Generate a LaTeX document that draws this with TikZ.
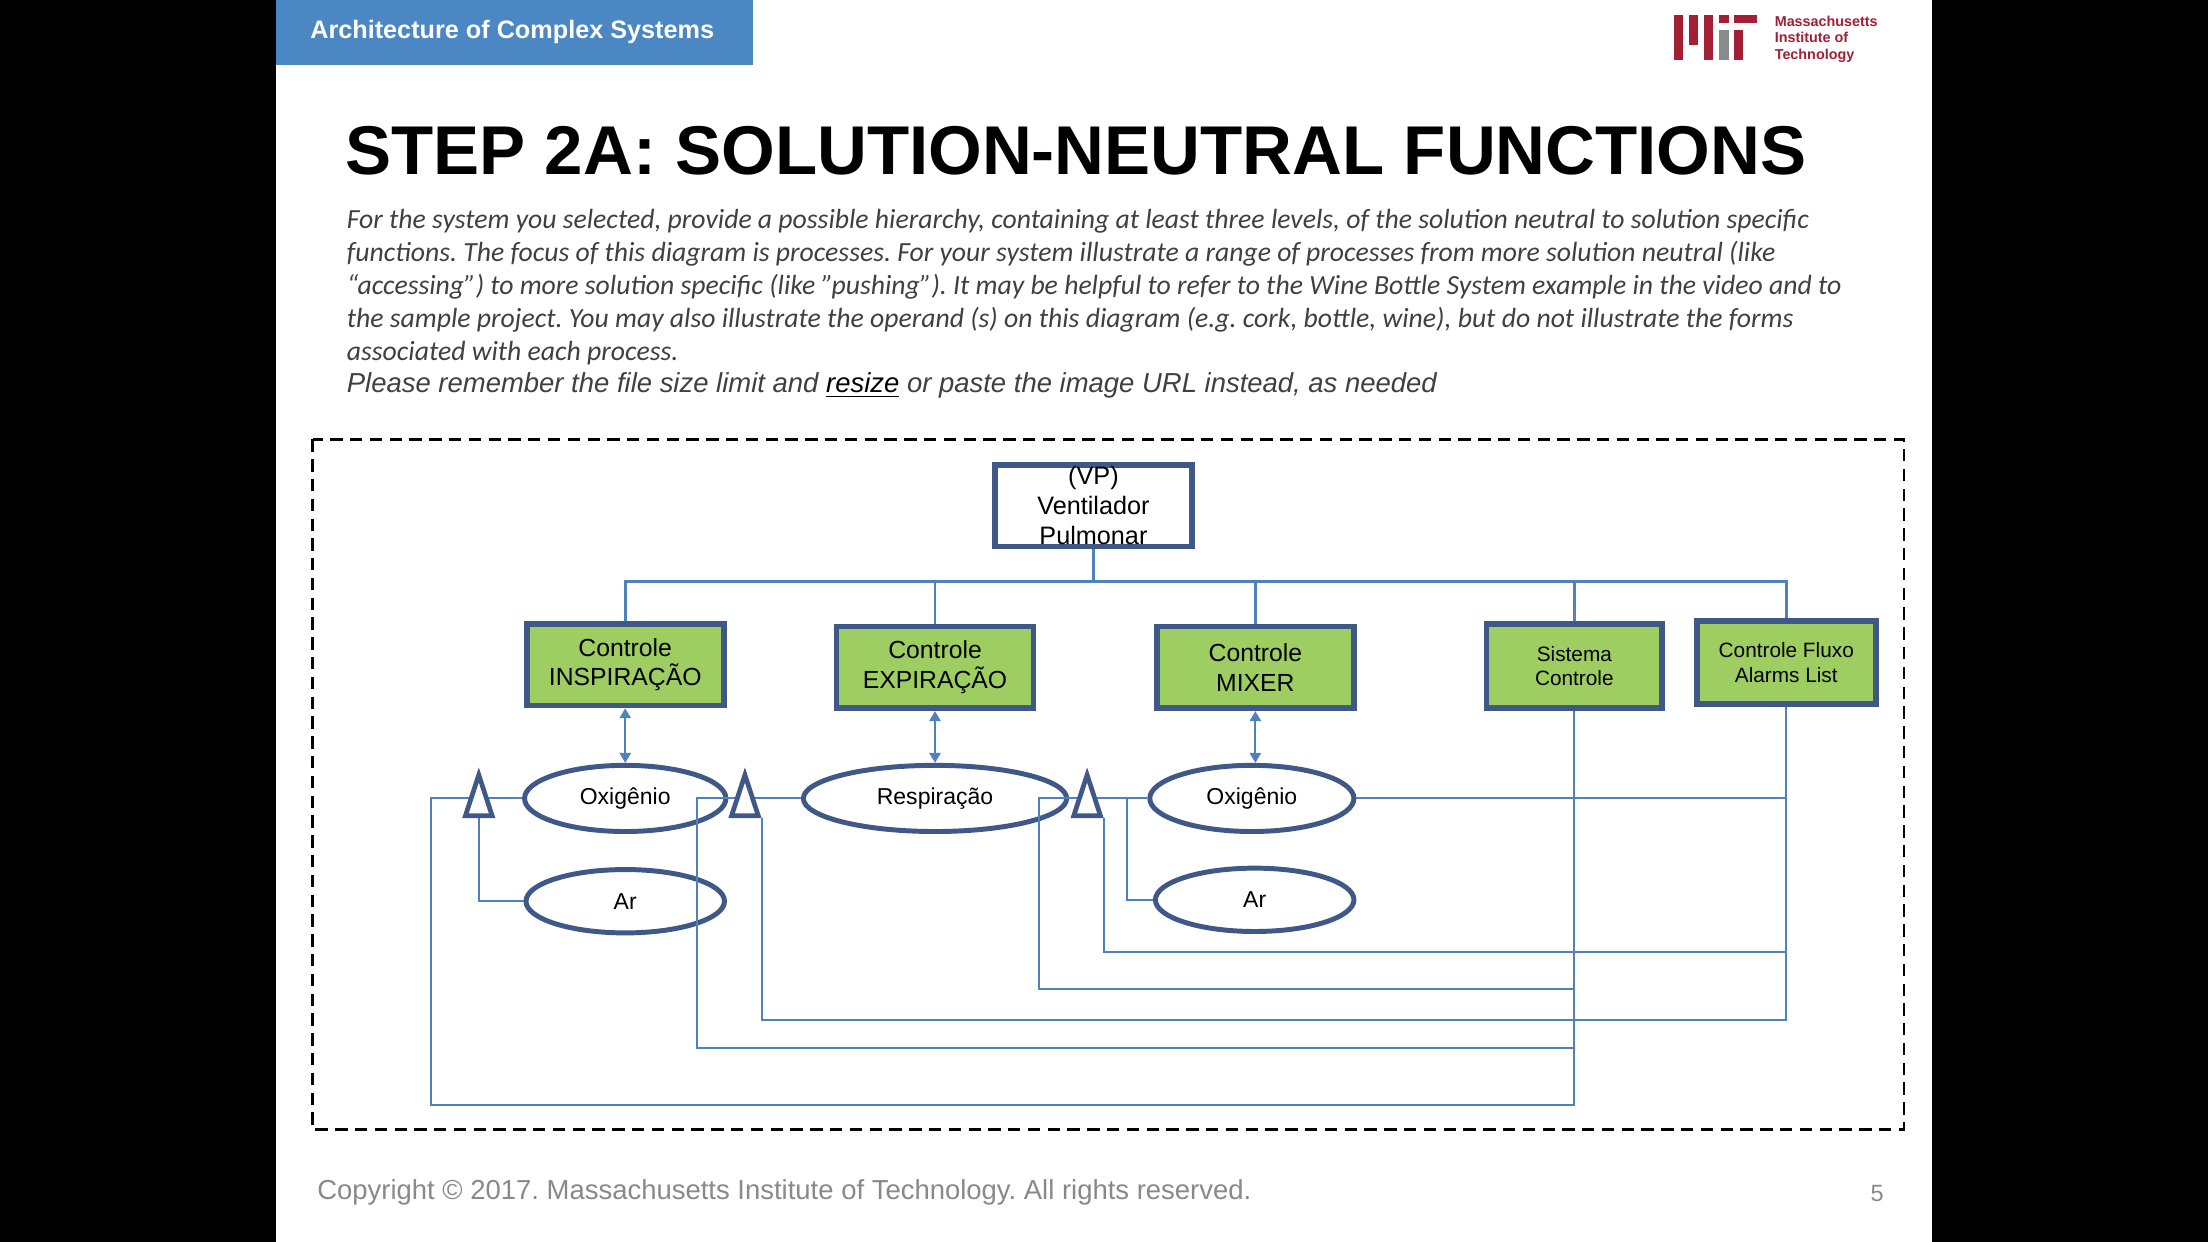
\documentclass[tikz,border=0pt]{standalone}
\usepackage{fontspec}
\setmainfont{Liberation Sans}
\newfontfamily\calibrifont{Carlito}
\usetikzlibrary{arrows.meta}
\usetikzlibrary{shapes.geometric}
\definecolor{boxline}{RGB}{64,88,136}
\definecolor{linkblue}{RGB}{79,129,189}
\definecolor{boxgreen}{RGB}{158,206,98}
\definecolor{headblue}{RGB}{75,135,195}
\definecolor{mitred}{RGB}{163,31,52}
\definecolor{mitgray}{RGB}{138,139,140}
\definecolor{txtgray}{RGB}{64,64,64}
\definecolor{footgray}{RGB}{137,137,137}
\pgfdeclarelayer{front}
\pgfsetlayers{main,front}
\frenchspacing

\begin{document}
\begin{tikzpicture}[x=0.02cm,y=-0.02cm,>={Triangle[length=4pt,width=4.5pt]},
	txt/.style={inner sep=0pt,anchor=base west},
	func/.style={draw=boxline,fill=boxgreen,line width=2.3pt,inner sep=0pt,align=center,
		minimum width=2.8cm,minimum height=1.16cm,font=\fontsize{10}{12}\selectfont},
	small/.style={font=\fontsize{8.4}{9.8}\selectfont},
	operand/.style={ellipse,draw=boxline,fill=white,line width=2pt,inner sep=0pt,
		minimum height=0.94cm,font=\fontsize{9.3}{11}\selectfont},
	spec/.style={isosceles triangle,isosceles triangle stretches,shape border rotate=90,
		draw=boxline,fill=white,line width=1.9pt,inner sep=0pt,anchor=south,
		minimum width=0.38cm,minimum height=0.58cm},
	link/.style={draw=linkblue,line width=0.8pt},
	tree/.style={draw=linkblue,line width=1.1pt}]
	\useasboundingbox (0,0) rectangle (1568,882);
	\fill[black] (0,0) rectangle (1568,882);
	\fill[white] (196,0) rectangle (1372,882);

	% slide header
	\fill[headblue] (196,0) rectangle (535,46);
	\node[txt,text=white,font=\bfseries\fontsize{10.2}{12}\selectfont] (course) at (220,27) {Architecture of Complex Systems};
	\fill[mitred] (1189,10.6) rectangle (1195.5,42.6);
	\fill[mitred] (1199.6,10.6) rectangle (1206,32);
	\fill[mitred] (1210,10.6) rectangle (1216.5,42.6);
	\fill[mitred] (1221,10.6) rectangle (1227.5,16.5);
	\fill[mitgray] (1221,21.3) rectangle (1227.5,42.6);
	\fill[mitred] (1231.5,10.6) rectangle (1248,16.5);
	\fill[mitred] (1231.5,21.3) rectangle (1238,42.6);
	\node[txt,text=mitred,font=\bfseries\fontsize{5.8}{7}\selectfont] (mit1) at (1260,18.5) {Massachusetts};
	\node[txt,text=mitred,font=\bfseries\fontsize{5.8}{7}\selectfont] (mit2) at (1260,30.3) {Institute of};
	\node[txt,text=mitred,font=\bfseries\fontsize{5.8}{7}\selectfont] (mit3) at (1260,42.3) {Technology};

	% title and instructions
	\node[txt,font=\bfseries\fontsize{27.9}{32}\selectfont] (title) at (245,124) {STEP 2A: SOLUTION-NEUTRAL FUNCTIONS};
	\node[txt,text=txtgray,font=\calibrifont\itshape\fontsize{11.2}{13}\selectfont] (par1) at (246,162) {For the system you selected, provide a possible hierarchy, containing at least three levels, of the solution neutral to solution specific};
	\node[txt,text=txtgray,font=\calibrifont\itshape\fontsize{11.2}{13}\selectfont] (par2) at (246,185.5) {functions. The focus of this diagram is processes. For your system illustrate a range of processes from more solution neutral (like};
	\node[txt,text=txtgray,font=\calibrifont\itshape\fontsize{11.2}{13}\selectfont] (par3) at (246,209) {“accessing”) to more solution specific (like ”pushing”). It may be helpful to refer to the Wine Bottle System example in the video and to};
	\node[txt,text=txtgray,font=\calibrifont\itshape\fontsize{11.2}{13}\selectfont] (par4) at (246,232.5) {the sample project. You may also illustrate the operand (s) on this diagram (e.g. cork, bottle, wine), but do not illustrate the forms};
	\node[txt,text=txtgray,font=\calibrifont\itshape\fontsize{11.2}{13}\selectfont] (par5) at (246,256) {associated with each process.};
	\node[txt,text=txtgray,font=\itshape\fontsize{11.1}{13}\selectfont] (note) at (246,279) {Please remember the file size limit and \textcolor{black}{\underline{resize}} or paste the image URL instead, as needed};

	% diagram frame
	\draw[black,line width=1pt,dash pattern=on 5pt off 3pt] (222,312) rectangle (1352,802);

	% functions
	\node[func,fill=white,font=\fontsize{10.2}{12.2}\selectfont] (vp) at (776.5,359) {(VP)\\Ventilador\\Pulmonar};
	\node[func] (insp) at (444,472) {Controle\\INSPIRAÇÃO};
	\node[func] (expi) at (664,474) {Controle\\EXPIRAÇÃO};
	\node[func] (mixer) at (891.5,474) {Controle\\MIXER};
	\node[func,small,minimum width=2.5cm,minimum height=1.2cm] (sist) at (1118,473) {Sistema\\Controle};
	\node[func,small,minimum width=2.54cm,minimum height=1.18cm] (fluxo) at (1268.5,470.5) {Controle Fluxo\\Alarms List};

	% operands
	\node[operand,minimum width=2.86cm] (oxi1) at (444,567) {Oxigênio};
	\node[operand,minimum width=2.82cm,minimum height=0.9cm] (ar1) at (444,640) {Ar};
	\node[operand,minimum width=3.74cm] (resp) at (664,567) {Respiração};
	\node[operand,minimum width=2.9cm] (oxi2) at (889,567) {Oxigênio};
	\node[operand,minimum width=2.82cm,minimum height=0.9cm] (ar2) at (891,639) {Ar};

	\begin{pgfonlayer}{front}
	\node[spec] (t1) at (340,581) {};
	\node[spec] (t2) at (529,581) {};
	\node[spec] (t3) at (772,581) {};
	\end{pgfonlayer}

	\coordinate (bus) at (776.5,413);
	\coordinate (j1) at (340,567);
	\coordinate (s1) at (1118,785);
	\coordinate (s2) at (1118,744);
	\coordinate (s4) at (1118,702);
	\coordinate (f3) at (1268.5,724);
	\coordinate (f5) at (1268.5,676);
	\coordinate (f6) at (1268.5,567);
	\coordinate (k1) at (306,785);
	\coordinate (k2) at (495,567);
	\coordinate (k4) at (738,567);
	\coordinate (k6) at (800,567);

	% hierarchy
	\draw[tree] (vp.south) -- (bus) -| (insp.north)
		(bus) -| (expi.north)
		(bus) -| (mixer.north)
		(bus) -| (sist.north)
		(bus) -| (fluxo.north);
	\draw[link,<->] (insp.south) -- (oxi1.north);
	\draw[link,<->] (expi.south) -- (resp.north);
	\draw[link,<->] (mixer.south) -- (mixer.south |- oxi2.north);

	% operand links
	\draw[link] (oxi1.west) -- (j1);
	\draw[link] (t1.south) |- (ar1.west);
	\draw[link] (sist.south) -- (s1) -- (k1) |- (j1);
	\draw[link] (s2) -| (k2) -- (resp.west);
	\draw[link] (fluxo.south) -- (f3) -| (t2.right corner);
	\draw[link] (s4) -| (k4) -- (oxi2.west);
	\draw[link] (f5) -| (t3.right corner);
	\draw[link] (f6) -- (oxi2.east);
	\draw[link] (ar2.west) -| (k6);

	% footer
	\node[txt,text=footgray,font=\fontsize{11.1}{13}\selectfont] (foot) at (225,852) {Copyright © 2017. Massachusetts Institute of Technology. All rights reserved.};
	\node[txt,text=footgray,font=\fontsize{9.5}{11}\selectfont] (pgno) at (1328,853) {5};
\end{tikzpicture}
\end{document}
